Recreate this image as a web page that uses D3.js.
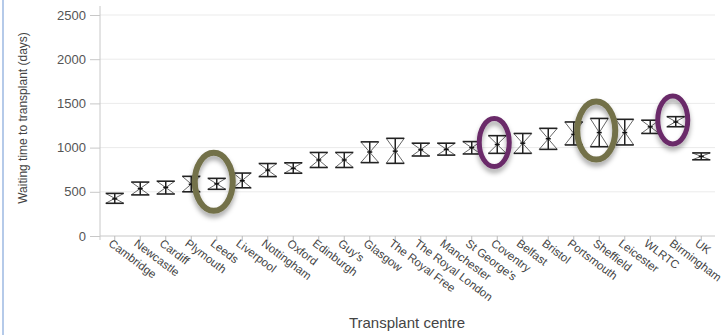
<!DOCTYPE html>
<html>
<head>
<meta charset="utf-8">
<script src="https://cdn.jsdelivr.net/npm/d3@7"></script>
<style>
  html, body { margin: 0; padding: 0; background: #fff; }
  svg { display: block; font-family: "Liberation Sans", Arial, sans-serif; }
</style>
</head>
<body>
<svg id="chart" width="728" height="335"></svg>
<script>
// Transplant centres, ordered by median waiting time
const centres = ["Cambridge", "Newcastle", "Cardiff", "Plymouth", "Leeds", "Liverpool",
  "Nottingham", "Oxford", "Edinburgh", "Guy's", "Glasgow", "The Royal Free",
  "The Royal London", "Manchester", "St George's", "Coventry", "Belfast", "Bristol",
  "Portsmouth", "Sheffield", "Leicester", "WLRTC", "Birmingham", "UK"];
// Median waiting time (days) and its confidence limits
const median = [420, 535, 550, 585, 590, 625, 745, 765, 860, 860, 950, 960,
  975, 980, 1000, 1035, 1050, 1100, 1150, 1170, 1170, 1235, 1290, 900];
const lower = [370, 465, 475, 500, 528, 545, 672, 710, 775, 775, 830, 822,
  905, 915, 928, 935, 935, 980, 1030, 1010, 1030, 1160, 1236, 862];
const upper = [482, 610, 620, 675, 652, 712, 820, 828, 945, 945, 1065, 1105,
  1050, 1050, 1068, 1135, 1160, 1218, 1290, 1330, 1320, 1310, 1350, 940];
const yTicks = [0, 500, 1000, 1500, 2000, 2500];
// Centres ringed for attention
const highlights = [
  { centre: "Leeds", colour: "#73714a", kind: "wide" },
  { centre: "Sheffield", colour: "#73714a", kind: "wide" },
  { centre: "Coventry", colour: "#6a2c69", kind: "narrow" },
  { centre: "Birmingham", colour: "#6a2c69", kind: "narrow" }
];

const svg = d3.select("#chart");

const x = d3.scaleBand().domain(centres).range([102, 714]);
const y = d3.scaleLinear().domain([0, 2500]).range([236, 15]);
const cx = c => x(c) + x.bandwidth() / 2;

// frame edge on the left
svg.append("line").attr("x1", 3).attr("x2", 3).attr("y1", 0).attr("y2", 335)
  .attr("stroke", "#9db8e2").attr("stroke-width", 1.5);

// horizontal gridlines
svg.append("g").selectAll("line").data(yTicks.filter(d => d > 0)).join("line")
  .attr("x1", 100).attr("x2", 715)
  .attr("y1", d => y(d)).attr("y2", d => y(d))
  .attr("stroke", "#ebebeb").attr("stroke-width", 1);

// y axis
const yAxis = svg.append("g").attr("transform", "translate(100,0)")
  .call(d3.axisLeft(y).tickValues(yTicks).tickFormat(d3.format("d")).tickSize(10).tickPadding(4));
yAxis.select(".domain").attr("stroke", "#c8c8c8").attr("d", "M0,6V240");
yAxis.selectAll(".tick line").attr("stroke", "#c8c8c8");
yAxis.selectAll(".tick text").attr("fill", "#555").attr("font-size", 13)
  .attr("font-family", "Liberation Sans, Arial, sans-serif");

// x axis
const xAxis = svg.append("g").attr("transform", "translate(0,236)")
  .call(d3.axisBottom(x).tickSize(5).tickSizeOuter(0));
xAxis.select(".domain").attr("stroke", "#c8c8c8").attr("d", "M100,0H715");
xAxis.selectAll(".tick line").attr("stroke", "#bbb");
xAxis.selectAll(".tick text")
  .attr("fill", "#444").attr("font-size", 11.5)
  .attr("font-family", "Liberation Sans, Arial, sans-serif")
  .attr("text-anchor", "start")
  .attr("x", 0).attr("y", 0).attr("dy", 0)
  .attr("transform", "translate(-7,9) rotate(37)");

// axis titles
svg.append("text")
  .attr("transform", "translate(27,118) rotate(-90)")
  .attr("text-anchor", "middle").attr("fill", "#444").attr("font-size", 12)
  .text("Waiting time to transplant (days)");
svg.append("text")
  .attr("x", 407).attr("y", 328)
  .attr("text-anchor", "middle").attr("fill", "#444").attr("font-size", 15)
  .text("Transplant centre");

// error bars: caps, vertical range and crossed diagonals
const rows = centres.map((c, i) => ({ c, m: median[i], lo: lower[i], hi: upper[i] }));
const cap = 9;
const bars = svg.append("g").selectAll("g").data(rows).join("g")
  .attr("transform", d => `translate(${cx(d.c)},0)`);
bars.append("line").attr("x1", -cap).attr("x2", cap)
  .attr("y1", d => y(d.lo)).attr("y2", d => y(d.hi))
  .attr("stroke", "#666").attr("stroke-width", 1);
bars.append("line").attr("x1", cap).attr("x2", -cap)
  .attr("y1", d => y(d.lo)).attr("y2", d => y(d.hi))
  .attr("stroke", "#666").attr("stroke-width", 1);
bars.append("line").attr("x1", 0).attr("x2", 0)
  .attr("y1", d => y(d.lo)).attr("y2", d => y(d.hi))
  .attr("stroke", "#222").attr("stroke-width", 1.5);
bars.append("line").attr("x1", -cap).attr("x2", cap)
  .attr("y1", d => y(d.hi)).attr("y2", d => y(d.hi))
  .attr("stroke", "#222").attr("stroke-width", 1.6);
bars.append("line").attr("x1", -cap).attr("x2", cap)
  .attr("y1", d => y(d.lo)).attr("y2", d => y(d.lo))
  .attr("stroke", "#222").attr("stroke-width", 1.6);
bars.append("line").attr("x1", -2.5).attr("x2", 2.5)
  .attr("y1", d => y(d.m)).attr("y2", d => y(d.m))
  .attr("stroke", "#111").attr("stroke-width", 1.5);

// highlight rings with a soft shadow
const defs = svg.append("defs");
const f = defs.append("filter").attr("id", "ringShadow")
  .attr("x", "-50%").attr("y", "-50%").attr("width", "200%").attr("height", "200%");
f.append("feDropShadow").attr("dx", 0).attr("dy", 4).attr("stdDeviation", 2.5)
  .attr("flood-color", "#000").attr("flood-opacity", 0.35);

const medianOf = c => median[centres.indexOf(c)];
svg.append("g").selectAll("ellipse").data(highlights).join("ellipse")
  .attr("cx", d => cx(d.centre) - 3)
  .attr("cy", d => y(medianOf(d.centre)) - 2)
  .attr("rx", d => d.kind === "wide" ? 19 : 15)
  .attr("ry", d => d.kind === "wide" ? 29 : 24)
  .attr("fill", "none")
  .attr("stroke", d => d.colour)
  .attr("stroke-width", d => d.kind === "wide" ? 6 : 5)
  .attr("filter", "url(#ringShadow)");
</script>
</body>
</html>
